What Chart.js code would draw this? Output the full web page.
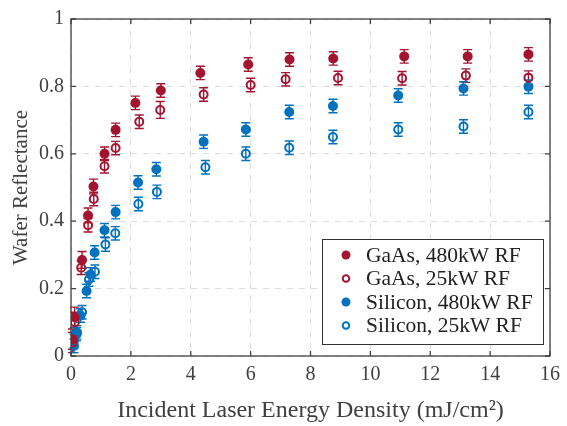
<!DOCTYPE html>
<html>
<head>
<meta charset="utf-8">
<script src="https://cdn.jsdelivr.net/npm/chart.js@4/dist/chart.umd.min.js"></script>
<style>
  html, body { margin: 0; padding: 0; background: #ffffff; }
  #wrap { width: 567px; height: 426px; position: relative; }
</style>
</head>
<body>
<div id="wrap"><canvas id="c" width="567" height="426"></canvas></div>
<script>
// ---- Data ----
const seriesLabels = ["GaAs, 480kW RF", "GaAs, 25kW RF", "Silicon, 480kW RF", "Silicon, 25kW RF"];

const gaas480X = [0.05, 0.12, 0.37, 0.57, 0.75, 1.12, 1.49, 2.15, 3.0, 4.32, 5.92, 7.3, 8.76, 11.13, 13.25, 15.28];
const gaas480Y = [0.05, 0.115, 0.285, 0.417, 0.503, 0.600, 0.671, 0.751, 0.788, 0.840, 0.865, 0.880, 0.883, 0.889, 0.889, 0.895];
const gaas480E = [0.03, 0.03, 0.025, 0.022, 0.022, 0.02, 0.02, 0.02, 0.02, 0.02, 0.02, 0.02, 0.02, 0.02, 0.02, 0.02];

const gaas25X = [0.05, 0.13, 0.34, 0.57, 0.76, 1.12, 1.49, 2.28, 2.98, 4.43, 6.0, 7.17, 8.92, 11.06, 13.19, 15.28];
const gaas25Y = [0.04, 0.10, 0.262, 0.388, 0.466, 0.563, 0.617, 0.695, 0.730, 0.776, 0.804, 0.821, 0.825, 0.824, 0.832, 0.826];
const gaas25E = [0.03, 0.03, 0.02, 0.02, 0.02, 0.02, 0.02, 0.02, 0.025, 0.02, 0.02, 0.02, 0.02, 0.02, 0.02, 0.02];

const si480X = [0.1, 0.19, 0.32, 0.52, 0.65, 0.79, 1.12, 1.49, 2.24, 2.85, 4.43, 5.84, 7.29, 8.75, 10.93, 13.11, 15.28];
const si480Y = [0.03, 0.065, 0.12, 0.193, 0.242, 0.307, 0.373, 0.427, 0.515, 0.554, 0.636, 0.672, 0.724, 0.742, 0.773, 0.794, 0.799];
const si480E = [0.02, 0.02, 0.02, 0.02, 0.02, 0.02, 0.02, 0.02, 0.02, 0.02, 0.02, 0.02, 0.02, 0.02, 0.02, 0.02, 0.02];

const si25X = [0.1, 0.2, 0.37, 0.6, 0.8, 1.15, 1.48, 2.25, 2.87, 4.49, 5.84, 7.29, 8.75, 10.93, 13.11, 15.28];
const si25Y = [0.045, 0.07, 0.13, 0.227, 0.25, 0.331, 0.364, 0.451, 0.487, 0.560, 0.600, 0.618, 0.650, 0.672, 0.681, 0.724];
const si25E = [0.02, 0.02, 0.02, 0.02, 0.02, 0.02, 0.02, 0.02, 0.02, 0.02, 0.02, 0.02, 0.02, 0.02, 0.02, 0.02];

const xTickValues = [0, 2, 4, 6, 8, 10, 12, 14, 16];
const yTickValues = [0, 0.2, 0.4, 0.6, 0.8, 1];

const RED = "#A2142F";
const BLUE = "#0072BD";

function pts(xs, ys, es) { return xs.map((x, i) => ({ x: x, y: ys[i], e: es[i] })); }

const datasets = [
  { label: seriesLabels[0], data: pts(gaas480X, gaas480Y, gaas480E), backgroundColor: RED, borderColor: RED, pointRadius: 5, borderWidth: 0, _open: false },
  { label: seriesLabels[1], data: pts(gaas25X, gaas25Y, gaas25E), backgroundColor: "rgba(0,0,0,0)", borderColor: RED, pointRadius: 4, borderWidth: 2, _open: true },
  { label: seriesLabels[2], data: pts(si480X, si480Y, si480E), backgroundColor: BLUE, borderColor: BLUE, pointRadius: 5, borderWidth: 0, _open: false },
  { label: seriesLabels[3], data: pts(si25X, si25Y, si25E), backgroundColor: "rgba(0,0,0,0)", borderColor: BLUE, pointRadius: 4, borderWidth: 2, _open: true }
];

const AXIS = "#404040";
const FONT = "'Liberation Serif', 'Times New Roman', serif";

const errorBars = {
  id: 'errorBars',
  beforeDatasetsDraw(chart) {
    const ctx = chart.ctx, xs = chart.scales.x, ys = chart.scales.y;
    ctx.save();
    chart.data.datasets.forEach(ds => {
      ctx.strokeStyle = ds.borderColor;
      ctx.lineWidth = 1.4;
      ds.data.forEach(p => {
        const px = xs.getPixelForValue(p.x);
        const y1 = ys.getPixelForValue(p.y - p.e);
        const y2 = ys.getPixelForValue(p.y + p.e);
        const w = 4.5;
        ctx.beginPath();
        ctx.moveTo(px, y1); ctx.lineTo(px, y2);
        ctx.moveTo(px - w, y1); ctx.lineTo(px + w, y1);
        ctx.moveTo(px - w, y2); ctx.lineTo(px + w, y2);
        ctx.stroke();
      });
    });
    ctx.restore();
  }
};

const boxAndLegend = {
  id: 'boxAndLegend',
  afterDraw(chart) {
    const ctx = chart.ctx, a = chart.chartArea, xs = chart.scales.x, ys = chart.scales.y;
    ctx.save();
    // box
    ctx.strokeStyle = AXIS;
    ctx.lineWidth = 1.3;
    ctx.strokeRect(a.left, a.top, a.right - a.left, a.bottom - a.top);
    // inward ticks
    ctx.beginPath();
    const tl = 5;
    xTickValues.forEach(v => {
      const px = xs.getPixelForValue(v);
      ctx.moveTo(px, a.bottom); ctx.lineTo(px, a.bottom - tl);
      ctx.moveTo(px, a.top); ctx.lineTo(px, a.top + tl);
    });
    yTickValues.forEach(v => {
      const py = ys.getPixelForValue(v);
      ctx.moveTo(a.left, py); ctx.lineTo(a.left + tl, py);
      ctx.moveTo(a.right, py); ctx.lineTo(a.right - tl, py);
    });
    ctx.stroke();

    // legend
    const lx = 322, ly = 239, lw = 221, lh = 105;
    ctx.fillStyle = "#ffffff";
    ctx.fillRect(lx, ly, lw, lh);
    ctx.strokeStyle = "#333333";
    ctx.lineWidth = 1;
    ctx.strokeRect(lx + 0.5, ly + 0.5, lw, lh);
    ctx.font = "21.5px " + FONT;
    ctx.textBaseline = "middle";
    ctx.textAlign = "left";
    chart.data.datasets.forEach((ds, i) => {
      const cy = ly + 16 + i * 23.5;
      const cx = lx + 24;
      ctx.beginPath();
      if (ds._open) {
        ctx.arc(cx, cy, 3.3, 0, Math.PI * 2);
        ctx.strokeStyle = ds.borderColor; ctx.lineWidth = 2; ctx.stroke();
      } else {
        ctx.arc(cx, cy, 4.5, 0, Math.PI * 2);
        ctx.fillStyle = ds.backgroundColor; ctx.fill();
      }
      ctx.fillStyle = "#222222";
      ctx.fillText(ds.label, lx + 44, cy + 1);
    });
    ctx.restore();
  }
};

new Chart(document.getElementById('c'), {
  type: 'scatter',
  data: { datasets: datasets },
  plugins: [errorBars, boxAndLegend],
  options: {
    responsive: false,
    animation: false,
    devicePixelRatio: 1,
    layout: { padding: { top: 14, right: 12, left: 0, bottom: 0 } },
    plugins: { legend: { display: false }, tooltip: { enabled: false } },
    scales: {
      x: {
        type: 'linear', min: 0, max: 16,
        afterBuildTicks: s => { s.ticks = xTickValues.map(v => ({ value: v })); },
        afterFit: s => { s.height = 70; },
        ticks: { color: AXIS, font: { family: FONT, size: 20 }, padding: 7, maxRotation: 0, callback: v => String(v) },
        grid: { color: "#dcdcdc", lineWidth: 1, drawTicks: false },
        border: { display: false, dash: [6, 6] },
        title: { display: true, text: "Incident Laser Energy Density (mJ/cm²)", color: AXIS, font: { family: FONT, size: 24 }, padding: { top: 4, bottom: 1 } }
      },
      y: {
        type: 'linear', min: 0, max: 1,
        afterBuildTicks: s => { s.ticks = yTickValues.map(v => ({ value: v })); },
        afterFit: s => { s.width = 71; },
        ticks: { color: AXIS, font: { family: FONT, size: 20 }, padding: 7, callback: v => String(Math.round(v * 10) / 10) },
        grid: { color: "#dcdcdc", lineWidth: 1, drawTicks: false },
        border: { display: false, dash: [6, 6] },
        title: { display: true, text: "Wafer Reflectance", color: AXIS, font: { family: FONT, size: 21 }, padding: { top: 9, bottom: 0 } }
      }
    }
  }
});
</script>
</body>
</html>
